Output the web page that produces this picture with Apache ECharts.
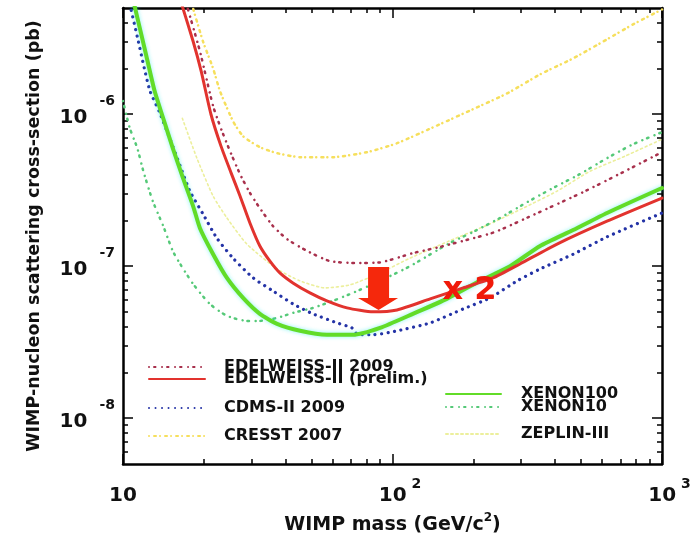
<!DOCTYPE html>
<html>
<head>
<meta charset="utf-8">
<script src="https://cdn.jsdelivr.net/npm/echarts@6/dist/echarts.min.js"></script>
<style>
  html, body { margin: 0; padding: 0; background: #fff; }
  #chart { width: 698px; height: 538px; }
</style>
</head>
<body>
<div id="chart"></div>
<script>
// each point: [WIMP mass (GeV/c^2), cross-section (pb)]
const edelweiss2009 = [[17.2,5.3e-6],[19.3,2.59e-6],[21.6,1.13e-6],[23.3,7.73e-7],[25.4,5.30e-7],[27.4,3.92e-7],[29.6,3.03e-7],[32.2,2.41e-7],[36.0,1.84e-7],[40.6,1.51e-7],[48.2,1.26e-7],[58.6,1.08e-7],[72.6,1.05e-7],[89.9,1.06e-7],[119,1.22e-7],[150,1.34e-7],[194,1.51e-7],[240,1.68e-7],[332,2.17e-7],[509,3.07e-7],[717,4.16e-7],[1000,5.63e-7]];
const edelweissPrelim = [[16.4,5.5e-6],[18.2,3.02e-6],[19.5,1.92e-6],[21.2,1.0e-6],[23.1,6.17e-7],[25.2,4.10e-7],[27.2,2.89e-7],[29.6,1.92e-7],[32.2,1.36e-7],[35.1,1.08e-7],[38.2,9.04e-8],[42.7,7.77e-8],[49.4,6.68e-8],[57.1,5.92e-8],[67.8,5.32e-8],[84.7,5.01e-8],[104,5.16e-8],[138,6.10e-8],[183,7.20e-8],[236,8.38e-8],[297,1.035e-7],[408,1.40e-7],[625,1.98e-7],[1000,2.81e-7]];
const cdms2009 = [[10.6,5.3e-6],[11.4,3.02e-6],[12.0,2.00e-6],[12.6,1.42e-6],[13.7,1.02e-6],[14.9,6.96e-7],[16.3,4.56e-7],[17.7,3.12e-7],[19.8,2.21e-7],[22.3,1.53e-7],[25.6,1.13e-7],[30.4,8.38e-8],[36.0,6.88e-8],[42.7,5.65e-8],[50.7,4.86e-8],[62.2,4.24e-8],[70.7,3.93e-8],[73.8,3.59e-8],[84.7,3.54e-8],[104,3.76e-8],[138,4.24e-8],[183,5.24e-8],[230,6.19e-8],[290,8.01e-8],[353,9.60e-8],[468,1.20e-7],[625,1.56e-7],[1000,2.24e-7]];
const cresst2007 = [[18.0,5.3e-6],[19.8,3.02e-6],[21.6,2.00e-6],[22.9,1.42e-6],[25.6,9.0e-7],[27.9,7.17e-7],[32.2,6.07e-7],[37.3,5.55e-7],[45.4,5.22e-7],[60.1,5.22e-7],[80.4,5.63e-7],[104,6.45e-7],[150,8.60e-7],[199,1.08e-6],[266,1.37e-6],[353,1.83e-6],[468,2.33e-6],[625,3.11e-6],[781,3.90e-6],[1000,4.89e-6]];
const xenon100 = [[11.0,5.3e-6],[12.1,2.59e-6],[13.1,1.42e-6],[14.1,9.41e-7],[15.3,5.98e-7],[16.7,3.80e-7],[18.2,2.49e-7],[19.3,1.78e-7],[21.6,1.20e-7],[24.3,8.38e-8],[27.9,6.19e-8],[32.2,4.86e-8],[37.3,4.18e-8],[45.4,3.76e-8],[57.1,3.54e-8],[71.3,3.54e-8],[89.9,3.93e-8],[119,4.86e-8],[159,6.10e-8],[211,8.01e-8],[273,1.00e-7],[353,1.36e-7],[468,1.73e-7],[625,2.24e-7],[1000,3.27e-7]];
const xenon10 = [[10,1.22e-6],[10.6,8.09e-7],[11.3,5.98e-7],[11.9,4.22e-7],[12.9,2.68e-7],[14.1,1.84e-7],[15.3,1.26e-7],[16.3,1.035e-7],[18.2,7.65e-8],[21.0,5.65e-8],[24.3,4.72e-8],[28.8,4.37e-8],[32.2,4.37e-8],[37.3,4.57e-8],[42.7,4.93e-8],[50.7,5.32e-8],[60.1,5.92e-8],[71.3,6.68e-8],[89.9,8.01e-8],[116,1.00e-7],[163,1.42e-7],[199,1.68e-7],[251,2.08e-7],[316,2.64e-7],[394,3.27e-7],[496,4.04e-7],[625,5.14e-7],[781,6.35e-7],[1000,7.62e-7]];
const zeplin3 = [[16.6,9.41e-7],[18.8,5.14e-7],[21.6,2.89e-7],[24.3,2.08e-7],[28.8,1.40e-7],[37.3,9.60e-8],[45.4,8.01e-8],[56.2,7.20e-8],[69.5,7.54e-8],[89.9,9.04e-8],[116,1.13e-7],[163,1.47e-7],[230,1.90e-7],[305,2.41e-7],[408,3.12e-7],[541,4.22e-7],[729,5.30e-7],[1000,6.85e-7]];

// axis ranges and ticks
const xMin = 10, xMax = 1000;
const yMin = 5e-9, yMax = 5e-6;
const xMajor = [10, 100, 1000];
const yMajor = [1e-8, 1e-7, 1e-6];
const minorSteps = [2, 3, 4, 5, 6, 7, 8, 9];

// annotation: arrow on the prelim. curve and the "x 2" note
const arrowAt = [88.4, 7.15e-8];
const noteAt = [193, 6.9e-8];
const noteText = "x 2";

const lg = Math.log10;
const FONT = "DejaVu Sans";

const minorTicks = (lo, hi) => {
  const out = [];
  for (let e = Math.floor(lg(lo)); e < Math.ceil(lg(hi)); e++) {
    minorSteps.forEach((k) => {
      const v = k * Math.pow(10, e);
      if (v > lo * 1.0001 && v < hi * 0.9999) out.push(lg(v));
    });
  }
  return out;
};

// frame axes drawn in log10 units, only for ticks / labels / box
const frameAxis = (dim, position, ticks, len, more) => {
  const lo = dim === "x" ? lg(xMin) : lg(yMin);
  const hi = dim === "x" ? lg(xMax) : lg(yMax);
  return Object.assign({
    type: "value",
    position: position,
    min: lo,
    max: hi,
    axisLine: { show: false, onZero: false },
    axisTick: {
      show: true, inside: true, length: len, customValues: ticks,
      lineStyle: { color: "#000", width: 1.5 },
    },
    axisLabel: { show: false },
    splitLine: { show: false },
  }, more || {});
};

const boxLine = { show: true, onZero: false, lineStyle: { color: "#000", width: 2.5 } };

const xLabel = {
  show: true,
  margin: 13,
  customValues: xMajor.map(lg),
  formatter: (v) => {
    const p = Math.round(v);
    return p === 1 ? "{b|10}" : "{c|10}{s|" + p + "}";
  },
  rich: {
    b: { fontFamily: FONT, fontWeight: "bold", fontSize: 20, color: "#111", padding: [9, 0, 9, 0], verticalAlign: "middle" },
    c: { fontFamily: FONT, fontWeight: "bold", fontSize: 20, color: "#111", padding: [9, 0, 9, 15], verticalAlign: "middle" },
    s: { fontFamily: FONT, fontWeight: "bold", fontSize: 14, color: "#111", padding: [0, 0, 24, 5], verticalAlign: "middle" },
  },
};

const yLabel = {
  show: true,
  margin: 8,
  customValues: yMajor.map(lg),
  formatter: (v) => "{b|10}{s|" + Math.round(v) + "}",
  rich: {
    b: { fontFamily: FONT, fontWeight: "bold", fontSize: 20, color: "#111", padding: [7, 0, 0, 0], verticalAlign: "middle" },
    s: { fontFamily: FONT, fontWeight: "bold", fontSize: 14, color: "#111", padding: [0, 0, 26, 12], verticalAlign: "middle" },
  },
};

const line = (name, data, color, width, type, z, more) => Object.assign({
  name: name,
  type: "line",
  xAxisIndex: 0,
  yAxisIndex: 0,
  data: data,
  symbol: "none",
  showSymbol: false,
  smooth: 0.2,
  z: z,
  silent: true,
  lineStyle: { color: color, width: width, type: type, cap: "round", join: "round" },
  itemStyle: { color: color },
  emphasis: { disabled: true },
}, more || {});

const legendAt = (name, left, top, iconW, gap) => ({
  data: [name],
  left: left,
  top: top,
  padding: 0,
  itemWidth: iconW,
  itemHeight: 12,
  selectedMode: false,
  itemStyle: { opacity: 0 },
  textStyle: { fontFamily: FONT, fontWeight: "bold", fontSize: 16, color: "#111", padding: [0, 0, 0, gap] },
});

const chart = echarts.init(document.getElementById("chart"));

chart.setOption({
  animation: false,
  backgroundColor: "#fff",
  grid: { left: 123, right: 36, top: 8, bottom: 74, outerBoundsMode: "none" },
  xAxis: [
    { type: "log", min: xMin, max: xMax, show: false },
    frameAxis("x", "bottom", xMajor.map(lg), 10, {
      axisLine: boxLine,
      axisLabel: xLabel,
      name: "{t|WIMP mass (GeV/c}{s|2}{t|)}",
      nameLocation: "middle",
      nameGap: 48,
      nameTextStyle: {
        rich: {
          t: { fontFamily: FONT, fontWeight: "bold", fontSize: 19, color: "#111", verticalAlign: "middle" },
          s: { fontFamily: FONT, fontWeight: "bold", fontSize: 12, color: "#111", padding: [0, 0, 14, 0], verticalAlign: "middle" },
        },
      },
    }),
    frameAxis("x", "bottom", minorTicks(xMin, xMax), 5),
    frameAxis("x", "top", xMajor.map(lg), 10, { axisLine: boxLine }),
    frameAxis("x", "top", minorTicks(xMin, xMax), 5),
  ],
  yAxis: [
    { type: "log", min: yMin, max: yMax, show: false },
    frameAxis("y", "left", yMajor.map(lg), 10, {
      axisLine: boxLine,
      axisLabel: yLabel,
      name: "WIMP-nucleon scattering cross-section (pb)",
      nameLocation: "middle",
      nameRotate: 90,
      nameGap: 80,
      nameTextStyle: { fontFamily: FONT, fontWeight: "bold", fontSize: 17.5, color: "#111" },
    }),
    frameAxis("y", "left", minorTicks(yMin, yMax), 5),
    frameAxis("y", "right", yMajor.map(lg), 10, { axisLine: boxLine }),
    frameAxis("y", "right", minorTicks(yMin, yMax), 5),
  ],
  legend: [
    legendAt("EDELWEISS-II 2009", 148, 359, 56, 14),
    legendAt("EDELWEISS-II (prelim.)", 148, 371, 56, 14),
    legendAt("CDMS-II 2009", 148, 400, 56, 14),
    legendAt("CRESST 2007", 148, 428, 56, 14),
    legendAt("XENON100", 445, 386, 55, 15),
    legendAt("XENON10", 445, 399, 55, 15),
    legendAt("ZEPLIN-III", 445, 426, 55, 15),
  ],
  series: [
    line("ZEPLIN-III", zeplin3, "#ecef9c", 1.6, [2, 3], 1),
    line("CRESST 2007", cresst2007, "#f6df5c", 2.5, [0.01, 5, 2, 4], 2),
    line("XENON10", xenon10, "#55c978", 2.5, [0.01, 5, 1.5, 6.5], 3),
    line("EDELWEISS-II 2009", edelweiss2009, "#a8304c", 2.5, [0.01, 5, 1.5, 6.5], 4),
    line("CDMS-II 2009", cdms2009, "#2433a6", 3.2, [0.01, 6.5], 5),
    line("XENON100", xenon100, "#62dc28", 4, "solid", 6, {
      lineStyle: { color: "#62dc28", width: 4, type: "solid", cap: "round", shadowColor: "rgba(0,230,230,0.45)", shadowBlur: 4 },
    }),
    line("EDELWEISS-II (prelim.)", edelweissPrelim, "#e2332e", 3, "solid", 7, {
      markPoint: {
        silent: true,
        animation: false,
        z: 20,
        data: [
          {
            coord: arrowAt,
            symbol: "path://M10,0 L31,0 L31,31 L40,31 L20.5,43 L0,31 L10,31 Z",
            symbolSize: [40, 43],
            itemStyle: { color: "#f5280c" },
            label: { show: false },
          },
          {
            coord: noteAt,
            symbol: "circle",
            symbolSize: 0,
            label: {
              show: true, position: "inside", formatter: noteText,
              color: "#f01a0a", fontFamily: FONT, fontWeight: "bold", fontSize: 32,
            },
          },
        ],
      },
    }),
  ],
});
</script>
</body>
</html>
